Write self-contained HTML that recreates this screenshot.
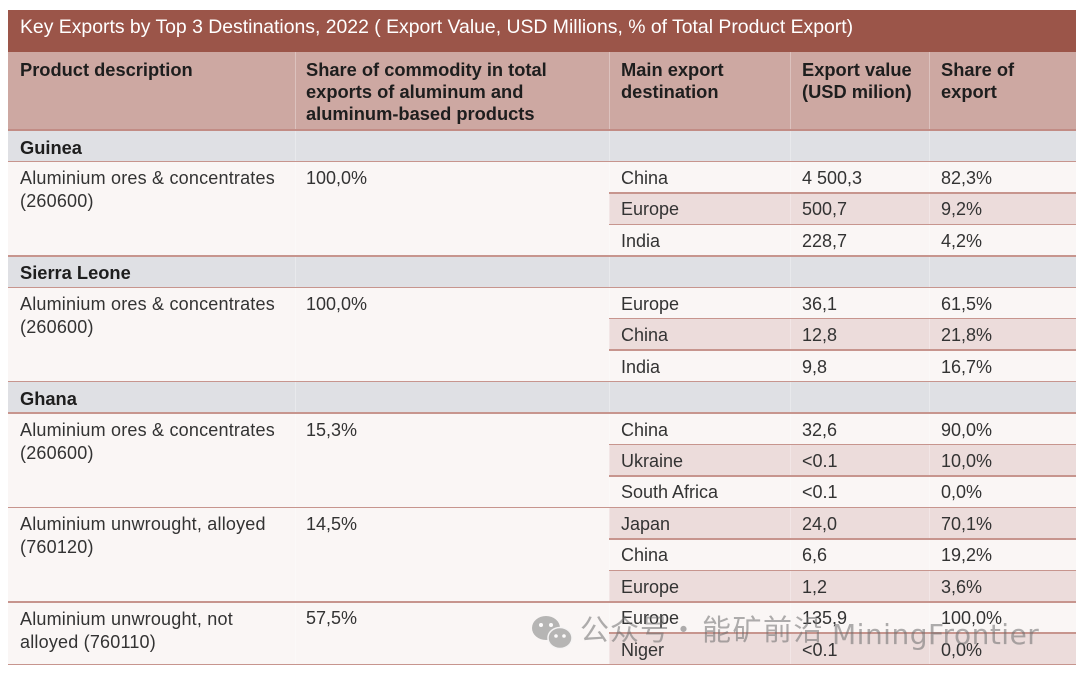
<!DOCTYPE html>
<html><head><meta charset="utf-8">
<style>
*{margin:0;padding:0;box-sizing:border-box}
html,body{width:1080px;height:675px;background:#fff;overflow:hidden}
#c{position:relative;width:1080px;height:675px;font-family:"Liberation Sans",Arial,sans-serif;color:#2e2e2e}
.a{position:absolute}
.t{position:absolute;font-size:18px;line-height:31.45px;white-space:nowrap;color:#333;margin-top:1.5px}
.b{font-weight:bold;color:#1e1e1e;font-size:18.3px}
.hl{position:absolute;left:8px;width:1068px;height:1.6px;background:#c7958e}
.pl{position:absolute;left:609px;width:467px;height:1.6px;background:#c7958e}
.sh{position:absolute;left:609px;width:467px;height:31.45px;background:#ecdcdb}
.gr{position:absolute;left:8px;width:1068px;height:31.45px;background:#dfe0e4}
.h{position:absolute;top:59px;font-size:18.3px;line-height:22px;font-weight:bold;color:#1e1e1e;white-space:nowrap}
.pd{position:absolute;left:20px;font-size:18px;line-height:23px;color:#333;letter-spacing:0.2px;white-space:nowrap;margin-top:1.5px}
.vl{position:absolute;width:1px;background:rgba(255,255,255,0.3)}
.wm{position:absolute;line-height:34px;color:rgba(110,110,110,0.55);white-space:nowrap}
.cj{font-family:'Noto Sans CJK SC',sans-serif;font-size:29px;top:611px}
.lt{font-family:'DejaVu Sans',sans-serif;font-size:28px;top:618px;letter-spacing:0.5px}
</style></head><body>
<div id="c">
  <!-- title bar -->
  <div class="a" style="left:8px;top:10px;width:1068px;height:42px;background:#9b5549"></div>
  <div class="a" style="left:20px;top:16px;font-size:19.4px;line-height:22px;color:#fff;white-space:nowrap">Key Exports by Top 3 Destinations, 2022 ( Export Value, USD Millions, % of Total Product Export)</div>
  <!-- header -->
  <div class="a" style="left:8px;top:52px;width:1068px;height:78px;background:#cda8a2"></div>
  <div class="h" style="left:20px">Product description</div>
  <div class="h" style="left:306px">Share of commodity in total<br>exports of aluminum and<br>aluminum-based products</div>
  <div class="h" style="left:621px">Main export<br>destination</div>
  <div class="h" style="left:802px">Export value<br>(USD milion)</div>
  <div class="h" style="left:941px">Share of<br>export</div>

  <!-- body background -->
  <div class="a" style="left:8px;top:130px;width:1068px;height:535px;background:#faf6f5"></div>
  <div class="gr" style="top:130px"></div>
  <div class="gr" style="top:255.8px"></div>
  <div class="gr" style="top:381.6px"></div>
  <div class="sh" style="top:192.9px"></div>
  <div class="sh" style="top:318.7px"></div>
  <div class="sh" style="top:444.5px"></div>
  <div class="sh" style="top:507.4px"></div>
  <div class="sh" style="top:570.3px"></div>
  <div class="sh" style="top:633.2px"></div>

  <!-- faint vertical separators -->
  <div class="vl" style="left:295px;top:52px;height:613px"></div>
  <div class="vl" style="left:609px;top:52px;height:613px"></div>
  <div class="vl" style="left:790px;top:52px;height:613px"></div>
  <div class="vl" style="left:929px;top:52px;height:613px"></div>

  <!-- lines -->
  <div class="hl" style="top:128.8px;height:2px;background:#c28c85"></div>
  <div class="hl" style="top:160.7px"></div>
  <div class="pl" style="top:192.1px"></div>
  <div class="pl" style="top:223.6px"></div>
  <div class="hl" style="top:255px"></div>
  <div class="hl" style="top:286.5px"></div>
  <div class="pl" style="top:317.9px"></div>
  <div class="pl" style="top:349.4px"></div>
  <div class="hl" style="top:380.8px"></div>
  <div class="hl" style="top:412.3px"></div>
  <div class="pl" style="top:443.7px"></div>
  <div class="pl" style="top:475.2px"></div>
  <div class="hl" style="top:506.6px"></div>
  <div class="pl" style="top:538.1px"></div>
  <div class="pl" style="top:569.5px"></div>
  <div class="hl" style="top:601px"></div>
  <div class="pl" style="top:632.4px"></div>
  <div class="hl" style="top:663.9px"></div>

  <!-- section headers -->
  <div class="t b" style="left:20px;top:130px">Guinea</div>
  <div class="t b" style="left:20px;top:255.8px">Sierra Leone</div>
  <div class="t b" style="left:20px;top:381.6px">Ghana</div>

  <!-- product descriptions -->
  <div class="pd" style="top:165.7px">Aluminium ores &amp; concentrates<br>(260600)</div>
  <div class="t" style="left:306px;top:161.45px">100,0%</div>
  <div class="pd" style="top:291.5px">Aluminium ores &amp; concentrates<br>(260600)</div>
  <div class="t" style="left:306px;top:287.25px">100,0%</div>
  <div class="pd" style="top:417.3px">Aluminium ores &amp; concentrates<br>(260600)</div>
  <div class="t" style="left:306px;top:413.05px">15,3%</div>
  <div class="pd" style="top:511.6px">Aluminium unwrought, alloyed<br>(760120)</div>
  <div class="t" style="left:306px;top:507.4px">14,5%</div>
  <div class="pd" style="top:606px">Aluminium unwrought, not<br>alloyed (760110)</div>
  <div class="t" style="left:306px;top:601.75px">57,5%</div>

  <!-- destination rows -->
  <div class="t" style="left:621px;top:161.45px">China</div><div class="t" style="left:802px;top:161.45px">4 500,3</div><div class="t" style="left:941px;top:161.45px">82,3%</div>
  <div class="t" style="left:621px;top:192.9px">Europe</div><div class="t" style="left:802px;top:192.9px">500,7</div><div class="t" style="left:941px;top:192.9px">9,2%</div>
  <div class="t" style="left:621px;top:224.35px">India</div><div class="t" style="left:802px;top:224.35px">228,7</div><div class="t" style="left:941px;top:224.35px">4,2%</div>

  <div class="t" style="left:621px;top:287.25px">Europe</div><div class="t" style="left:802px;top:287.25px">36,1</div><div class="t" style="left:941px;top:287.25px">61,5%</div>
  <div class="t" style="left:621px;top:318.7px">China</div><div class="t" style="left:802px;top:318.7px">12,8</div><div class="t" style="left:941px;top:318.7px">21,8%</div>
  <div class="t" style="left:621px;top:350.15px">India</div><div class="t" style="left:802px;top:350.15px">9,8</div><div class="t" style="left:941px;top:350.15px">16,7%</div>

  <div class="t" style="left:621px;top:413.05px">China</div><div class="t" style="left:802px;top:413.05px">32,6</div><div class="t" style="left:941px;top:413.05px">90,0%</div>
  <div class="t" style="left:621px;top:444.5px">Ukraine</div><div class="t" style="left:802px;top:444.5px">&lt;0.1</div><div class="t" style="left:941px;top:444.5px">10,0%</div>
  <div class="t" style="left:621px;top:475.95px">South Africa</div><div class="t" style="left:802px;top:475.95px">&lt;0.1</div><div class="t" style="left:941px;top:475.95px">0,0%</div>
  <div class="t" style="left:621px;top:507.4px">Japan</div><div class="t" style="left:802px;top:507.4px">24,0</div><div class="t" style="left:941px;top:507.4px">70,1%</div>
  <div class="t" style="left:621px;top:538.85px">China</div><div class="t" style="left:802px;top:538.85px">6,6</div><div class="t" style="left:941px;top:538.85px">19,2%</div>
  <div class="t" style="left:621px;top:570.3px">Europe</div><div class="t" style="left:802px;top:570.3px">1,2</div><div class="t" style="left:941px;top:570.3px">3,6%</div>
  <div class="t" style="left:621px;top:601.75px">Europe</div><div class="t" style="left:802px;top:601.75px">135,9</div><div class="t" style="left:941px;top:601.75px">100,0%</div>
  <div class="t" style="left:621px;top:633.2px">Niger</div><div class="t" style="left:802px;top:633.2px">&lt;0.1</div><div class="t" style="left:941px;top:633.2px">0,0%</div>

  <!-- watermark -->
  <svg class="a" style="left:529px;top:612px;opacity:0.6" width="50" height="42" viewBox="0 0 50 42">
    <ellipse cx="17" cy="16" rx="14" ry="12" fill="#8a8a8a"/>
    <circle cx="12" cy="13" r="2" fill="#fff"/>
    <circle cx="22" cy="13" r="2" fill="#fff"/>
    <ellipse cx="31" cy="26" rx="12" ry="10.5" fill="#8a8a8a" stroke="#f4f4f4" stroke-width="1.5"/>
    <circle cx="27" cy="24" r="1.8" fill="#fff"/>
    <circle cx="35" cy="24" r="1.8" fill="#fff"/>
  </svg>
  <div class="wm cj" style="left:580px;letter-spacing:1px">公众号</div>
  <div class="wm cj" style="left:669px">·</div>
  <div class="wm cj" style="left:702px;letter-spacing:1.5px">能矿前沿</div>
  <div class="wm lt" style="left:832px">MiningFrontier</div>
</div>
</body></html>
